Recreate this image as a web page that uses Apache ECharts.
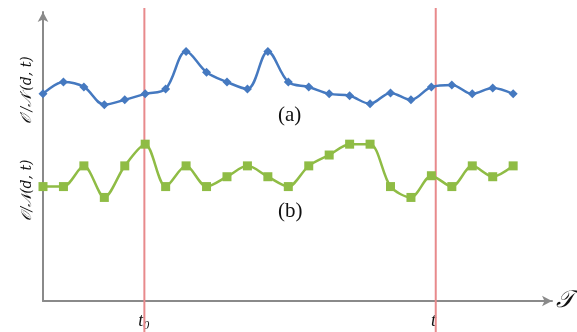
<!DOCTYPE html>
<html><head><meta charset="utf-8">
<script src="https://cdn.jsdelivr.net/npm/echarts@6/dist/echarts.min.js"></script>
<style>html,body{margin:0;padding:0;background:#fff}#c{width:577px;height:332px}</style>
</head><body><div id="c"></div>
<script>
// time index of each sample
const steps = [0,1,2,3,4,5,6,7,8,9,10,11,12,13,14,15,16,17,18,19,20,21,22,23];
// (a) O'/N'(d,t)
const seriesA = [210,222,217,199,204,210,215,253,232,222,215,253,222,217,210,208,200,211,204,217,219,210,216,210];
// (b) O/N(d,t)
const seriesB = [116,116,137,105,137,159,116,137,116,126,137,126,116,137,148,159,159,116,105,127,116,137,126,137];
// marked instants
const markTimes = [4.93, 19.1];
const markLabels = ['t0', 't'];

const chart = echarts.init(document.getElementById('c'));
const axisColor = '#8a8a8a';
chart.setOption({
  animation: false,
  grid: [
    {left: 43, right: 22, top: 12, bottom: 27},
    {left: 43, right: 22, top: 8, bottom: 0}
  ],
  xAxis: [
    {gridIndex: 0, type: 'value', min: 0, max: 24.9,
     name: '𝒯', nameLocation: 'end', nameGap: 4,
     nameTextStyle: {fontFamily: 'DejaVu Serif', fontStyle: 'italic', fontSize: 24, color: '#111', verticalAlign: 'middle'},
     axisLine: {onZero: false, symbol: ['none', 'arrow'], symbolSize: [8, 10], lineStyle: {color: axisColor, width: 2}},
     axisTick: {show: false}, splitLine: {show: false},
     axisLabel: {show: true, customValues: markTimes, margin: 11,
       formatter: function (v) { const i = markTimes.indexOf(v); return i === 0 ? '{t|t}{s|0}' : '{t|t}'; },
       rich: {t: {fontFamily: 'Liberation Serif', fontStyle: 'italic', fontSize: 18, color: '#111', lineHeight: 20, verticalAlign: 'top'},
              s: {fontFamily: 'Liberation Serif', fontStyle: 'italic', fontSize: 12, color: '#111', lineHeight: 20, verticalAlign: 'top', padding: [8,0,0,0]}}}
    },
    {gridIndex: 1, type: 'value', min: 0, max: 24.9, show: false}
  ],
  yAxis: [
    {gridIndex: 0, type: 'value', min: 0, max: 293,
     axisLine: {show: true, onZero: false, symbol: ['none', 'arrow'], symbolSize: [8, 10], lineStyle: {color: axisColor, width: 2}},
     axisTick: {show: false}, axisLabel: {show: false}, splitLine: {show: false}},
    {gridIndex: 1, type: 'value', min: 0, max: 1, show: false}
  ],
  series: [
    {type: 'line', xAxisIndex: 1, yAxisIndex: 1, symbol: 'none', silent: true, z: 1,
     lineStyle: {color: '#e88a8c', width: 2},
     data: [[markTimes[0], 0], [markTimes[0], 1]]},
    {type: 'line', xAxisIndex: 1, yAxisIndex: 1, symbol: 'none', silent: true, z: 1,
     lineStyle: {color: '#e88a8c', width: 2},
     data: [[markTimes[1], 0], [markTimes[1], 1]]},
    {type: 'line', name: '(a)', smooth: 0.35, symbol: 'diamond', symbolSize: 9, z: 3,
     itemStyle: {color: '#4579c0'}, lineStyle: {color: '#4579c0', width: 2.5},
     data: steps.map((s, i) => [s, seriesA[i]])},
    {type: 'line', name: '(b)', smooth: 0.3, symbol: 'rect', symbolSize: 9, z: 3,
     itemStyle: {color: '#8fbc45'}, lineStyle: {color: '#8fbc45', width: 2.5},
     data: steps.map((s, i) => [s, seriesB[i]])}
  ],
  graphic: [
    {type: 'text', left: 278, top: 105, style: {text: '(a)', font: '21px "Liberation Serif"', fill: '#111'}},
    {type: 'text', left: 278, top: 201, style: {text: '(b)', font: '21px "Liberation Serif"', fill: '#111'}},
    {type: 'text', x: 27, y: 90, rotation: Math.PI / 2, style: {text: '𝒪′/𝒩′(d, t)', font: 'italic 14px "DejaVu Serif"', fill: '#111', align: 'center', verticalAlign: 'middle'}},
    {type: 'text', x: 27, y: 190, rotation: Math.PI / 2, style: {text: '𝒪/𝒩(d, t)', font: 'italic 14px "DejaVu Serif"', fill: '#111', align: 'center', verticalAlign: 'middle'}}
  ]
});
</script></body></html>
